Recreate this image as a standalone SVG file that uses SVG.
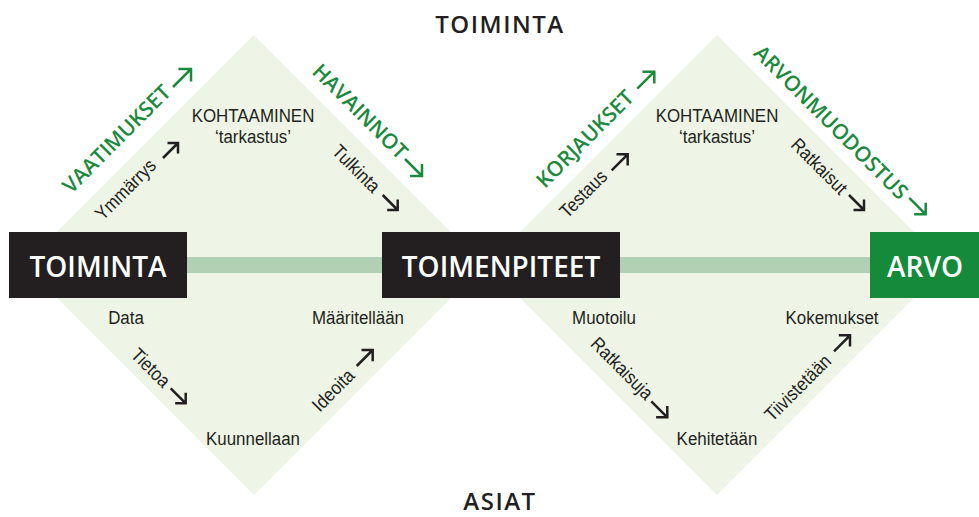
<svg xmlns="http://www.w3.org/2000/svg" width="979" height="517" viewBox="0 0 979 517">
<defs>
<style>
.dia{fill:#eef5e6}
.box{fill:#231f20}
.boxg{fill:#148a3a}
.bt{font-family:"Open Sans","Liberation Sans",sans-serif;font-weight:600;font-size:28px;fill:#ffffff;text-anchor:middle}
.title{font-family:"Open Sans","Liberation Sans",sans-serif;font-weight:600;font-size:24px;fill:#231f20;text-anchor:middle;letter-spacing:1.5px}
.sm{font-family:"Liberation Sans",Arial,sans-serif;font-size:19px;fill:#231f20;text-anchor:middle}
.gr{font-family:"Open Sans","Liberation Sans",sans-serif;font-weight:600;font-size:21px;fill:#1b8a3c;text-anchor:middle}
.ak{fill:none;stroke:#231f20;stroke-width:2.5}
.ag{fill:none;stroke:#1b8a3c;stroke-width:2.5}
</style>
</defs>
<rect width="979" height="517" fill="#ffffff"/>
<g id="background">
<polygon class="dia" points="254,35 484,265 254,495 24,265"/>
<polygon class="dia" points="717,35 947,265 717,495 487,265"/>
</g>
<g id="connectors">
<rect x="187" y="257" width="683" height="16" fill="#b2d0b4"/>
<path class="ag" d="M173,87 L191,69 M178.4,69 L191,69 L191,81.6"/>
<path class="ak" d="M163,158 L178,143 M167.5,143 L178,143 L178,153.5"/>
<path class="ag" d="M405,159 L422,176 M410.1,176 L422,176 L422,164.1"/>
<path class="ak" d="M382.7,195 L397.7,210 M387.2,210 L397.7,210 L397.7,199.5"/>
<path class="ag" d="M637.3,88.7 L654.3,71.7 M642.4,71.7 L654.3,71.7 L654.3,83.6"/>
<path class="ak" d="M611.7,170.3 L627.7,154.3 M616.5,154.3 L627.7,154.3 L627.7,165.5"/>
<path class="ag" d="M909.2,197.8 L925.7,214.3 M914.2,214.3 L925.7,214.3 L925.7,202.8"/>
<path class="ak" d="M849,195 L864,210 M853.5,210 L864,210 L864,199.5"/>
<path class="ak" d="M170.7,388.3 L185.7,403.3 M175.2,403.3 L185.7,403.3 L185.7,392.8"/>
<path class="ak" d="M356.7,366 L372.7,350 M361.5,350 L372.7,350 L372.7,361.2"/>
<path class="ak" d="M651.3,401.3 L667.3,417.3 M656.1,417.3 L667.3,417.3 L667.3,406.1"/>
<path class="ak" d="M834,351.3 L850,335.3 M838.8,335.3 L850,335.3 L850,346.5"/>
</g>
<g id="node-toiminta">
<rect class="box" x="9" y="232" width="178" height="66"/>
<text class="bt" x="98" y="277">TOIMINTA</text>
</g>
<g id="node-toimenpiteet">
<rect class="box" x="382" y="232" width="238" height="66"/>
<text class="bt" x="501" y="277">TOIMENPITEET</text>
</g>
<g id="node-arvo">
<rect class="boxg" x="870" y="232" width="109" height="66"/>
<text class="bt" x="925" y="277">ARVO</text>
</g>
<g id="titles">
<text class="title" x="500" y="33">TOIMINTA</text>
<text class="title" x="500" y="510">ASIAT</text>
</g>
<g id="labels-left">
<text class="sm" transform="translate(253,122) scale(0.89,1)">KOHTAAMINEN</text>
<text class="sm" transform="translate(253,143) scale(0.89,1)">‘tarkastus’</text>
<text class="gr" transform="translate(121.6,144.1) rotate(-45)">VAATIMUKSET</text>
<text class="sm" transform="translate(130,194) rotate(-45) scale(0.89,1)">Ymmärrys</text>
<text class="gr" transform="translate(354.9,116.6) rotate(45)">HAVAINNOT</text>
<text class="sm" transform="translate(351.7,173.3) rotate(45) scale(0.89,1)">Tulkinta</text>
<text class="sm" transform="translate(126,324) scale(0.89,1)">Data</text>
<text class="sm" transform="translate(358,324) scale(0.89,1)">Määritellään</text>
<text class="sm" transform="translate(253,445) scale(0.89,1)">Kuunnellaan</text>
<text class="sm" transform="translate(146.2,372.3) rotate(45) scale(0.89,1)">Tietoa</text>
<text class="sm" transform="translate(337.8,394.8) rotate(-45) scale(0.89,1)">Ideoita</text>
</g>
<g id="labels-right">
<text class="sm" transform="translate(717,122) scale(0.89,1)">KOHTAAMINEN</text>
<text class="sm" transform="translate(717,143) scale(0.89,1)">‘tarkastus’</text>
<text class="gr" transform="translate(590.1,144.1) rotate(-45)">KORJAUKSET</text>
<text class="sm" transform="translate(587.8,198.3) rotate(-45) scale(0.89,1)">Testaus</text>
<text class="gr" transform="translate(825.9,127.6) rotate(45)">ARVONMUODOSTUS</text>
<text class="sm" transform="translate(814.7,170.8) rotate(45) scale(0.89,1)">Ratkaisut</text>
<text class="sm" transform="translate(604,324) scale(0.89,1)">Muotoilu</text>
<text class="sm" transform="translate(832,324) scale(0.89,1)">Kokemukset</text>
<text class="sm" transform="translate(717,445) scale(0.89,1)">Kehitetään</text>
<text class="sm" transform="translate(617.5,373) rotate(45) scale(0.89,1)">Ratkaisuja</text>
<text class="sm" transform="translate(802.3,392.3) rotate(-45) scale(0.89,1)">Tiivistetään</text>
</g>
</svg>
